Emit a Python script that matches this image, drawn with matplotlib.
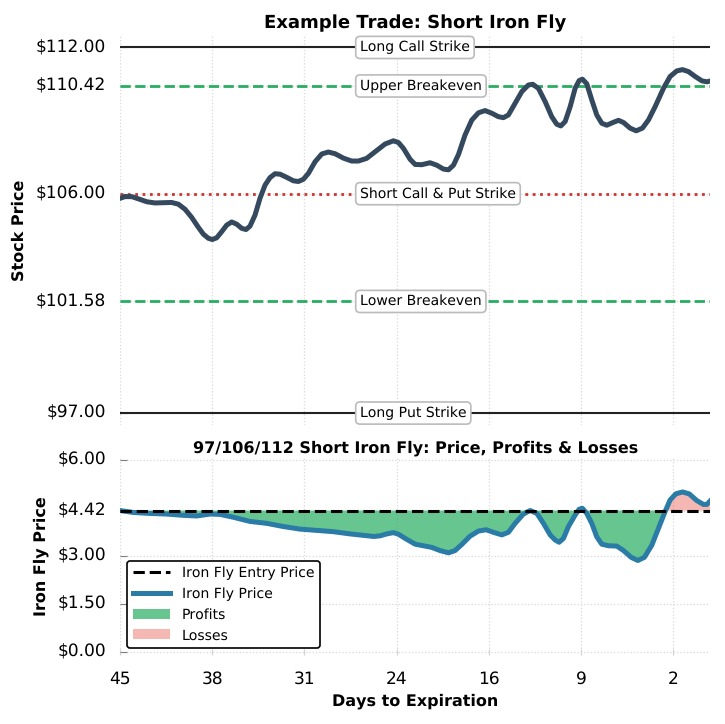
import numpy as np
import matplotlib
matplotlib.use("Agg")
import matplotlib.pyplot as plt

plt.rcParams["text.hinting"] = "no_hinting"
plt.rcParams["text.hinting_factor"] = 1

tick_pos = [0, 7, 14, 21, 28, 35, 42]
tick_days = ["45", "38", "31", "24", "16", "9", "2"]

strike_ticks = [97, 101.58, 106, 110.42, 112]
strike_labels = ["$97.00", "$101.58", "$106.00", "$110.42", "$112.00"]
fly_ticks = [0, 1.5, 3, 4.42, 6]
fly_labels = ["$0.00", "$1.50", "$3.00", "$4.42", "$6.00"]

long_call = 112
upper_be = 110.42
short_strike = 106
lower_be = 101.58
long_put = 97
entry_price = 4.42

stock_x = [0, .38, .89, 1.39, 2.03, 2.66, 3.29, 3.92, 4.43, 4.94, 5.44, 5.95, 6.33, 6.71, 7.01, 7.34, 7.72,
           8.1, 8.48, 8.86, 9.24, 9.57, 9.87, 10.25, 10.63, 11.01, 11.39, 11.77, 12.15, 12.66, 13.16, 13.54,
           13.92, 14.3, 14.81, 15.32, 15.82, 16.33, 16.96, 17.59, 18.1, 18.73, 19.37, 20.13, 20.76, 21.14,
           21.52, 22.03, 22.41, 22.91, 23.54, 24.05, 24.56, 24.94, 25.32, 25.7, 26.2, 26.71, 27.22, 27.72,
           28.23, 28.73, 29.11, 29.49, 30.0, 30.51, 31.01, 31.34, 31.77, 32.28, 32.78, 33.16, 33.47, 33.8,
           34.18, 34.56, 34.86, 35.11, 35.44, 35.82, 36.2, 36.58, 36.96, 37.47, 37.85, 38.23, 38.73, 39.19,
           39.67, 40.13, 40.63, 41.27, 41.77, 42.28, 42.71, 43.16, 43.67, 44.18, 44.56, 44.86]
stock_y = [105.81, 105.88, 105.88, 105.79, 105.67, 105.62, 105.63, 105.64, 105.57, 105.36, 105.03, 104.62,
           104.34, 104.17, 104.12, 104.19, 104.44, 104.71, 104.84, 104.75, 104.58, 104.53, 104.67, 105.12,
           105.81, 106.35, 106.66, 106.82, 106.80, 106.67, 106.53, 106.50, 106.59, 106.83, 107.31, 107.63,
           107.71, 107.64, 107.46, 107.34, 107.34, 107.45, 107.72, 108.04, 108.17, 108.10, 107.86, 107.41,
           107.20, 107.19, 107.27, 107.17, 107.01, 106.98, 107.17, 107.61, 108.41, 109.02, 109.32, 109.41,
           109.30, 109.16, 109.12, 109.23, 109.71, 110.19, 110.46, 110.49, 110.32, 109.78, 109.16, 108.85,
           108.78, 108.96, 109.57, 110.33, 110.64, 110.70, 110.51, 109.85, 109.23, 108.89, 108.81, 108.93,
           109.01, 108.92, 108.69, 108.58, 108.69, 109.03, 109.57, 110.33, 110.81, 111.04, 111.09, 111.01,
           110.81, 110.63, 110.59, 110.63]

fly_x = [0, 1.01, 2.28, 3.54, 4.81, 5.82, 6.84, 7.59, 8.61, 9.87, 11.14, 12.41, 13.67, 14.94, 16.2, 17.47,
         18.38, 19.27, 19.75, 20.25, 20.76, 21.14, 21.65, 22.41, 23.04, 23.67, 24.3, 24.94, 25.44, 25.95,
         26.58, 27.22, 27.8, 28.35, 28.99, 29.49, 30.0, 30.63, 31.14, 31.65, 32.15, 32.66, 33.04, 33.34,
         33.67, 34.05, 34.56, 34.86, 35.11, 35.44, 35.82, 36.2, 36.58, 37.09, 37.72, 38.23, 38.81, 39.32,
         39.82, 40.38, 40.89, 41.39, 41.77, 42.2, 42.71, 43.22, 43.8, 44.3, 44.56, 44.81]
fly_y = [4.42, 4.36, 4.33, 4.31, 4.27, 4.25, 4.31, 4.30, 4.21, 4.08, 4.02, 3.92, 3.84, 3.80, 3.76, 3.69,
         3.65, 3.61, 3.63, 3.69, 3.73, 3.68, 3.55, 3.37, 3.32, 3.27, 3.17, 3.10, 3.17, 3.36,
         3.62, 3.78, 3.82, 3.74, 3.66, 3.74, 4.02, 4.31, 4.42, 4.33, 4.02, 3.66, 3.50, 3.43,
         3.55, 3.92, 4.28, 4.46, 4.49, 4.33, 4.02, 3.60, 3.37, 3.32, 3.31, 3.17, 2.96, 2.86,
         2.96, 3.34, 3.87, 4.39, 4.75, 4.94, 5.00, 4.94, 4.73, 4.61, 4.61, 4.72]

W, H = 725, 724
fig = plt.figure(figsize=(W / 100, H / 100), dpi=100)
ax1 = fig.add_axes([120 / W, 1 - 425 / H, 590.3 / W, 389 / H])
ax2 = fig.add_axes([120 / W, 1 - 655 / H, 590.3 / W, 197 / H])

for ax in (ax1, ax2):
    ax.set_xlim(0, 44.82)
    ax.set_xticks(tick_pos)
    ax.grid(True, ls=":", color="#d8d8d8", lw=0.9)
    ax.set_axisbelow(True)
    for s in ax.spines.values():
        s.set_visible(False)
    ax.tick_params(axis="y", direction="in", length=5, color="gray", labelsize=12.6, pad=10)
    ax.tick_params(axis="x", direction="in", length=4, color="lightgray", labelsize=12.6, pad=11.5)

ax1.set_ylim(96.51, 112.47)
ax1.set_yticks(strike_ticks, strike_labels)
ax1.tick_params(axis="x", labelbottom=False, length=0)
ax1.axhline(long_call, color="#222222", lw=1.5)
ax1.axhline(upper_be, color="#27ae60", lw=2, ls="--")
ax1.axhline(short_strike, color="#d0312d", lw=2, ls=":")
ax1.axhline(lower_be, color="#27ae60", lw=2, ls="--")
ax1.axhline(long_put, color="#222222", lw=1.5)
ax1.plot(stock_x, stock_y, color="#34495e", lw=3.6)

box = dict(boxstyle="round,pad=0.3", fc="white", ec="#bbbbbb", lw=1.2)
for lab, val in [("Long Call Strike", long_call), ("Upper Breakeven", upper_be),
                 ("Short Call & Put Strike", short_strike), ("Lower Breakeven", lower_be),
                 ("Long Put Strike", long_put)]:
    ax1.text((360 - 120) / 590.3, val, lab, fontsize=10.3, ha="left", va="center", bbox=box, zorder=6,
             transform=ax1.get_yaxis_transform())

ax1.set_title("Example Trade: Short Iron Fly", fontsize=12.7, fontweight="bold", pad=6)
ax1.set_ylabel("Stock Price", fontsize=11.2, fontweight="bold")
ax1.yaxis.set_label_coords((27 - 120) / 590.3, 0.5)

ax2.set_ylim(-0.09, 6.06)
ax2.set_yticks(fly_ticks, fly_labels)
ax2.set_xticklabels(tick_days)
fx = np.array(fly_x)
fy = np.array(fly_y)
ax2.fill_between(fx, fy, entry_price, where=fy <= entry_price, interpolate=True,
                 color="#27ae60", alpha=0.7, lw=0, label="Profits")
ax2.fill_between(fx, fy, entry_price, where=fy >= entry_price, interpolate=True,
                 color="#e74c3c", alpha=0.4, lw=0, label="Losses")
ax2.plot(fly_x, fly_y, color="#2a7ba6", lw=3.6, label="Iron Fly Price")
ax2.axhline(entry_price, color="black", lw=2.2, ls="--", label="Iron Fly Entry Price", zorder=5)

for ax in (ax1, ax2):
    for t in ax.get_yticklabels():
        t.set_verticalalignment("center")

h, l = ax2.get_legend_handles_labels()
order = [l.index(n) for n in ["Iron Fly Entry Price", "Iron Fly Price", "Profits", "Losses"]]
leg = ax2.legend([h[i] for i in order], [l[i] for i in order], fontsize=10.4, loc="lower left",
                 bbox_to_anchor=(0.0118, 0.035), borderaxespad=0, framealpha=1, edgecolor="black",
                 fancybox=True, handlelength=2.6, labelspacing=0.5)
leg.get_frame().set_linewidth(1.2)

ax2.set_title("97/106/112 Short Iron Fly: Price, Profits & Losses", fontsize=11.35, fontweight="bold", pad=4)
ax2.set_ylabel("Iron Fly Price", fontsize=11.4, fontweight="bold")
ax2.yaxis.set_label_coords((49 - 120) / 590.3, 0.5)
ax2.set_xlabel("Days to Expiration", fontsize=11.5, fontweight="bold", labelpad=4)

fig.savefig("out.png", dpi=100)
